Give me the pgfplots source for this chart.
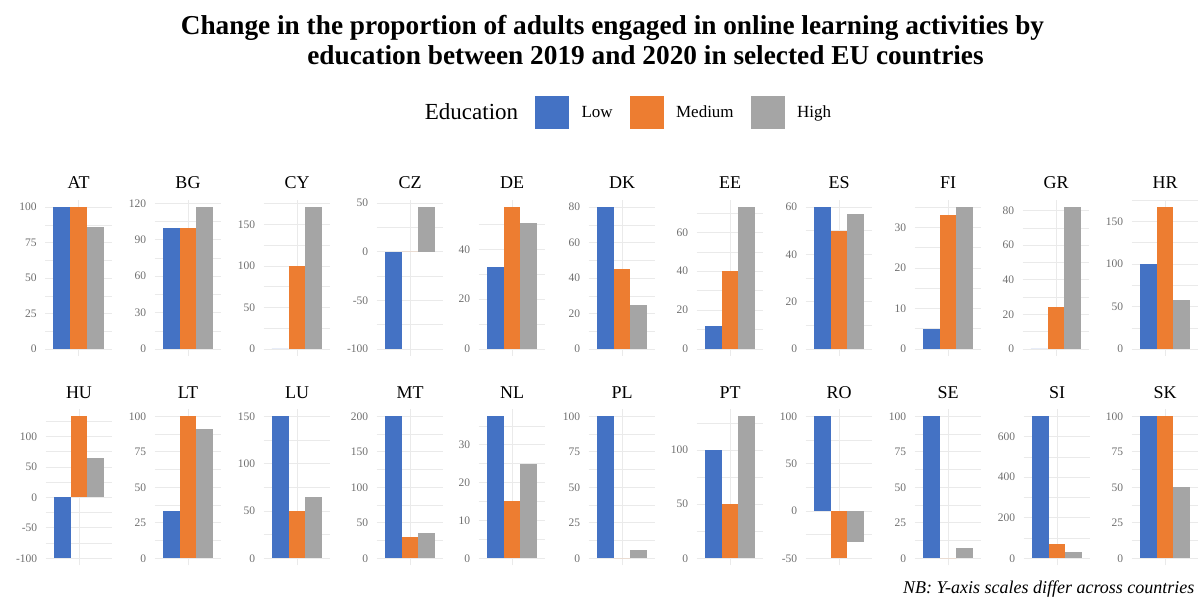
\documentclass[border=0pt]{standalone}
\usepackage{pgfplots}
\pgfplotsset{compat=1.18}
\usepackage{fontspec}
\setmainfont{Liberation Serif}
\definecolor{lowc}{RGB}{68,114,196}
\definecolor{medc}{RGB}{237,125,49}
\definecolor{highc}{RGB}{165,165,165}
\definecolor{gridc}{RGB}{234,234,234}
\definecolor{tickc}{RGB}{110,110,110}
\pgfplotsset{
  panel/.style={
    width=66.7pt, height=156.2pt, scale only axis, anchor=south west,
    xmin=0, xmax=4, xtick={2}, xticklabels={},
    axis line style={draw=none}, major tick length=0pt, minor tick length=0pt,
    xmajorgrids, ymajorgrids, yminorgrids,
    major grid style={gridc, line width=0.7pt},
    minor grid style={gridc, line width=0.45pt},
    yticklabel style={font=\fontsize{11.5}{11.5}\selectfont, text=tickc, xshift=-5pt},
    /pgf/number format/assume math mode=true,
    title style={font=\fontsize{18}{18}\selectfont, anchor=center, at={(0.5,1)}, yshift=11pt},
  },
  lowbar/.style={ybar, bar width=1, bar shift=0pt, fill=lowc, draw=none},
  medbar/.style={ybar, bar width=1, bar shift=0pt, fill=medc, draw=none},
  highbar/.style={ybar, bar width=1, bar shift=0pt, fill=highc, draw=none},
}
% #1 centre x, #2 bottom y, #3 country, #4 ymin, #5 ymax, #6 tick options, #7 low, #8 medium, #9 high
\newcommand\panel[9]{%
\begin{axis}[panel, at={({#1pt-33.35pt},#2pt)}, title={#3}, ymin=#4, ymax=#5, #6]
\addplot[lowbar] coordinates {(1,#7)};
\addplot[medbar] coordinates {(2,#8)};
\addplot[highbar] coordinates {(3,#9)};
\end{axis}}
\begin{document}
\begin{tikzpicture}
\useasboundingbox (0pt,0pt) rectangle (1200pt,597pt);
% canvas axis holding the legend
\begin{axis}[at={(0pt,0pt)}, anchor=south west, width=1200pt, height=597pt, scale only axis,
  xmin=0, xmax=1200, ymin=0, ymax=597, hide axis,
  legend columns=-1,
  legend style={at={(622.5/1200,484.5/597)}, anchor=center, draw=none, fill=none,
    inner sep=0pt, font=\fontsize{17}{17}\selectfont,
    /tikz/every even column/.append style={column sep=15pt},
    /tikz/every odd column/.append style={column sep=11pt}},
  legend cell align=left]
\addlegendimage{empty legend}
\addlegendentry{\fontsize{23}{23}\selectfont Education}
\addlegendimage{legend image code/.code={\fill[lowc] (0pt,-16pt) rectangle (33pt,16pt);}}
\addlegendentry{Low}
\addlegendimage{legend image code/.code={\fill[medc] (0pt,-16pt) rectangle (33pt,16pt);}}
\addlegendentry{Medium}
\addlegendimage{legend image code/.code={\fill[highc] (0pt,-16pt) rectangle (33pt,16pt);}}
\addlegendentry{High}
\end{axis}
\node[anchor=base, font=\bfseries\fontsize{27.3}{27.3}\selectfont] at (612.5pt,562pt) {Change in the proportion of adults engaged in online learning activities by};
\node[anchor=base, font=\bfseries\fontsize{27.3}{27.3}\selectfont] at (645.5pt,532pt) {education between 2019 and 2020 in selected EU countries};
\node[anchor=base east, font=\itshape\fontsize{18}{18}\selectfont] at (1198pt,3.5pt) {NB: Y-axis scales differ across countries};
% row 1
\panel{78.5}{240.9}{AT}{-5}{105}{ytick={0,25,50,75,100},minor ytick={12.5,37.5,62.5,87.5}}{100}{100}{86}
\panel{188}{240.9}{BG}{-5.85}{122.85}{ytick={0,30,60,90,120},minor ytick={15,45,75,105}}{100}{100}{117}
\panel{297}{240.9}{CY}{-8.55}{179.55}{ytick={0,50,100,150},minor ytick={25,75,125,175}}{0}{100}{171}
\panel{410}{240.9}{CZ}{-107.3}{53.3}{ytick={-100,-50,0,50},minor ytick={-75,-25,25}}{-100}{0}{46}
\panel{512}{240.9}{DE}{-2.85}{59.85}{ytick={0,20,40},minor ytick={10,30,50}}{33}{57}{50.5}
\panel{622}{240.9}{DK}{-4}{84}{ytick={0,20,40,60,80},minor ytick={10,30,50,70}}{80}{45}{25}
\panel{730}{240.9}{EE}{-3.65}{76.65}{ytick={0,20,40,60},minor ytick={10,30,50,70}}{12}{40}{73}
\panel{839}{240.9}{ES}{-3}{63}{ytick={0,20,40,60},minor ytick={10,30,50}}{60}{50}{57}
\panel{948}{240.9}{FI}{-1.75}{36.75}{ytick={0,10,20,30},minor ytick={5,15,25,35}}{5}{33}{35}
\panel{1056}{240.9}{GR}{-4.1}{86.1}{ytick={0,20,40,60,80},minor ytick={10,30,50,70}}{0}{24}{82}
\panel{1165}{240.9}{HR}{-8.35}{175.35}{ytick={0,50,100,150},minor ytick={25,75,125,175}}{100}{167}{58}
% row 2
\panel{79}{31.6}{HU}{-111.65}{144.65}{ytick={-100,-50,0,50,100},minor ytick={-75,-25,25,75,125}}{-100}{133}{64}
\panel{188}{31.6}{LT}{-5}{105}{ytick={0,25,50,75,100},minor ytick={12.5,37.5,62.5,87.5}}{33}{100}{91}
\panel{297}{31.6}{LU}{-7.5}{157.5}{ytick={0,50,100,150},minor ytick={25,75,125}}{150}{50}{65}
\panel{410}{31.6}{MT}{-10}{210}{ytick={0,50,100,150,200},minor ytick={25,75,125,175}}{200}{30}{35}
\panel{512}{31.6}{NL}{-1.875}{39.375}{ytick={0,10,20,30},minor ytick={5,15,25,35}}{37.5}{15}{25}
\panel{622}{31.6}{PL}{-5}{105}{ytick={0,25,50,75,100},minor ytick={12.5,37.5,62.5,87.5}}{100}{0}{6}
\panel{730}{31.6}{PT}{-6.55}{137.55}{ytick={0,50,100},minor ytick={25,75,125}}{100}{50}{131}
\panel{839}{31.6}{RO}{-57.5}{107.5}{ytick={-50,0,50,100},minor ytick={-25,25,75}}{100}{-50}{-33}
\panel{948}{31.6}{SE}{-5}{105}{ytick={0,25,50,75,100},minor ytick={12.5,37.5,62.5,87.5}}{100}{0}{7}
\panel{1057}{31.6}{SI}{-35}{735}{ytick={0,200,400,600},minor ytick={100,300,500,700}}{700}{70}{33}
\panel{1165}{31.6}{SK}{-5}{105}{ytick={0,25,50,75,100},minor ytick={12.5,37.5,62.5,87.5}}{100}{100}{50}
\end{tikzpicture}
\end{document}
